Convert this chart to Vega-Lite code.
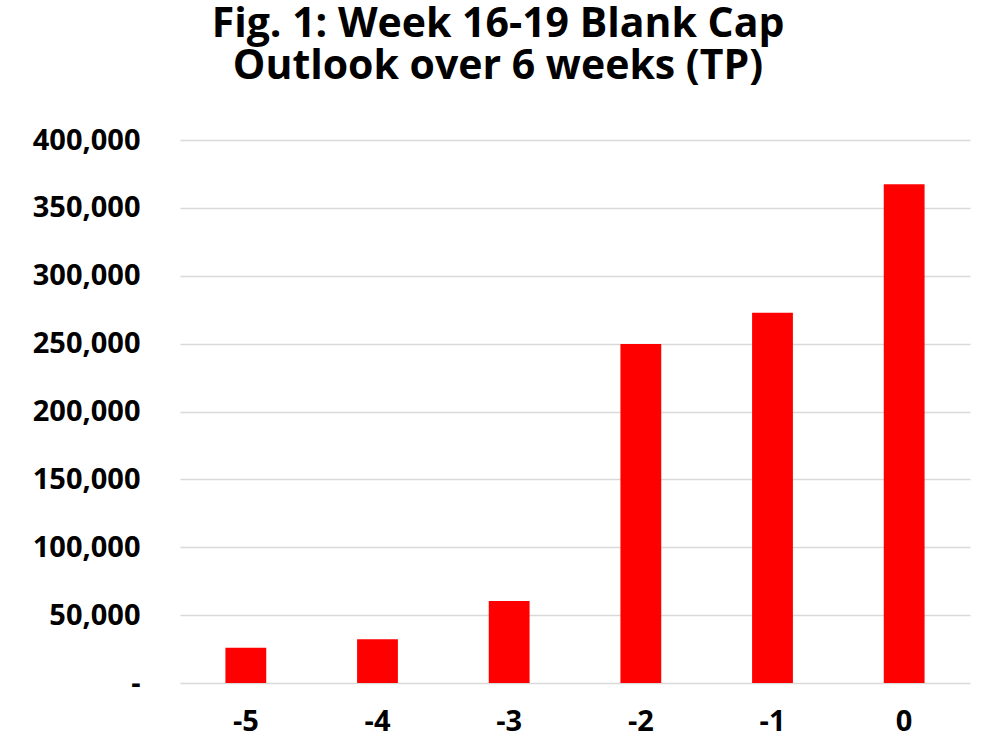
{
  "$schema": "https://vega.github.io/schema/vega-lite/v6.json",
  "autosize": {"type": "none"},
  "width": 790,
  "height": 543,
  "padding": {"left": 180, "top": 140, "right": 30, "bottom": 67},
  "background": "white",
  "title": {
    "text": ["Fig. 1: Week 16-19 Blank Cap", "Outlook over 6 weeks (TP)"],
    "font": "Open Sans",
    "fontSize": 41,
    "fontWeight": "bold",
    "color": "black",
    "lineHeight": 42,
    "anchor": "middle",
    "baseline": "alphabetic",
    "dx": -77,
    "offset": 6
  },
  "data": {
    "values": [
      {"week": "-5", "value": 26000},
      {"week": "-4", "value": 32300},
      {"week": "-3", "value": 60400},
      {"week": "-2", "value": 249800},
      {"week": "-1", "value": 272800},
      {"week": "0", "value": 367400}
    ]
  },
  "mark": {"type": "bar", "color": "#ff0000"},
  "encoding": {
    "x": {
      "field": "week",
      "type": "ordinal",
      "sort": null,
      "scale": {"paddingInner": 0.69, "paddingOuter": 0.345},
      "axis": {
        "title": null,
        "labelAngle": 0,
        "domain": false,
        "ticks": false,
        "labelFont": "Open Sans",
        "labelFontSize": 29,
        "labelFontWeight": "bold",
        "labelColor": "black",
        "labelPadding": 24
      }
    },
    "y": {
      "field": "value",
      "type": "quantitative",
      "scale": {"domain": [0, 400000], "nice": false},
      "axis": {
        "title": null,
        "values": [0, 50000, 100000, 150000, 200000, 250000, 300000, 350000, 400000],
        "labelExpr": "datum.value == 0 ? '-\u00a0\u00a0\u00a0' : format(datum.value, ',')",
        "domain": false,
        "ticks": false,
        "grid": true,
        "gridColor": "#d9d9d9",
        "gridWidth": 1.5,
        "labelFont": "Open Sans",
        "labelFontSize": 29,
        "labelFontWeight": "bold",
        "labelColor": "black",
        "labelPadding": 40
      }
    }
  },
  "config": {"view": {"stroke": null}}
}
